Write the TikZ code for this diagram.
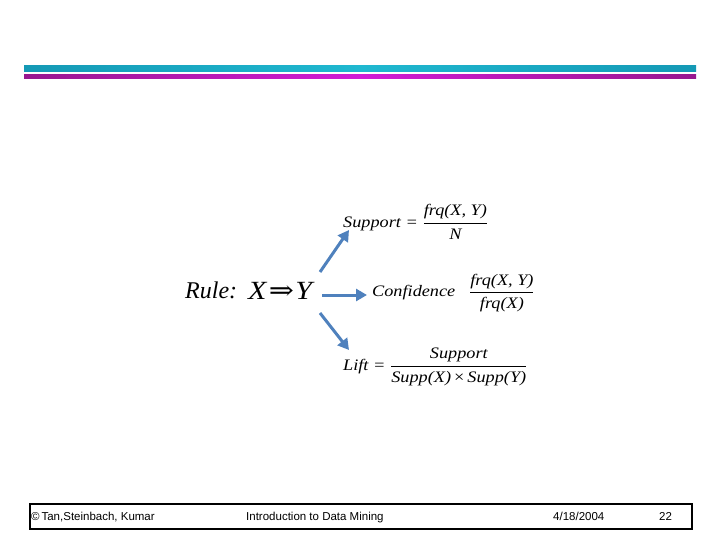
\documentclass[tikz,border=0pt]{standalone}
\usepackage{fontspec}
\setmainfont{Liberation Serif}
\newfontfamily\arialf{Liberation Sans}
\newfontfamily\dejaf{DejaVu Serif}
\usetikzlibrary{arrows.meta}
\definecolor{arrowblue}{HTML}{4F81BD}
\definecolor{cyanbar}{HTML}{1FB8D0}
\definecolor{cyandark}{HTML}{1499B5}
\definecolor{magbar}{HTML}{D21CD6}
\definecolor{magdark}{HTML}{98188F}
\newcommand{\tfr}[2]{$\displaystyle\frac{\hbox{\itshape #1}}{\hbox{\itshape #2}}$}
\newcommand{\wide}[1]{\scalebox{1.14}[1]{#1}}
\tikzset{
  formula/.style={inner sep=0pt, font=\fontsize{16}{18}\selectfont\itshape, anchor=west},
  footertext/.style={inner sep=0pt, font=\arialf\fontsize{11.5}{13}\selectfont, anchor=base west},
  bluearrow/.style={draw=arrowblue, line width=3pt, -{Triangle[length=11pt,width=12pt]}}
}
\begin{document}
\begin{tikzpicture}[x=1pt,y=-1pt]
\useasboundingbox (0,0) rectangle (720,540);
% header bars
\shade[left color=cyandark, right color=cyandark, middle color=cyanbar] (24,66) rectangle (696,72);
\shade[left color=magdark, right color=magdark, middle color=magbar] (24,75) rectangle (696,79);
% rule
\node[inner sep=0pt, anchor=west, font=\fontsize{24}{26}\selectfont\itshape] (rule) at (185,290) {Rule:};
\node[inner sep=0pt, anchor=west, font=\fontsize{25}{27}\selectfont\itshape] (xy) at (248,291) {\scalebox{1.2}[1.05]{X\hspace{2pt}{\dejaf\upshape ⇒}\hspace{1pt}Y}};
% formulas
\node[formula] (supp) at (343,222) {\wide{Support = \tfr{frq(X, Y)}{N}}};
\node[formula] (conf) at (372,293) {\wide{Confidence\hspace{12pt}\tfr{frq(X, Y)}{frq(X)}}};
\node[formula] (lift) at (343,367) {\wide{Lift = \tfr{Support}{Supp(X)\,{\upshape×}\,Supp(Y)}}};
% arrows
\coordinate (a1s) at (320,272); \coordinate (a1e) at (349,230);
\coordinate (a2s) at (322,295); \coordinate (a2e) at (367,295);
\coordinate (a3s) at (320,313); \coordinate (a3e) at (349,350);
\draw[bluearrow] (a1s) -- (a1e);
\draw[bluearrow] (a2s) -- (a2e);
\draw[bluearrow] (a3s) -- (a3e);
% footer
\node[draw, line width=1.8pt, minimum width=662pt, minimum height=25pt, inner sep=0pt, anchor=north west] (footer) at (29,503) {};
\node[footertext] (f1) at (31,520) {©\,Tan,Steinbach, Kumar};
\node[footertext] (f2) at (246,520) {Introduction to Data Mining};
\node[footertext] (f3) at (553,520) {4/18/2004};
\node[footertext] (f4) at (659,520) {22};
\end{tikzpicture}
\end{document}
